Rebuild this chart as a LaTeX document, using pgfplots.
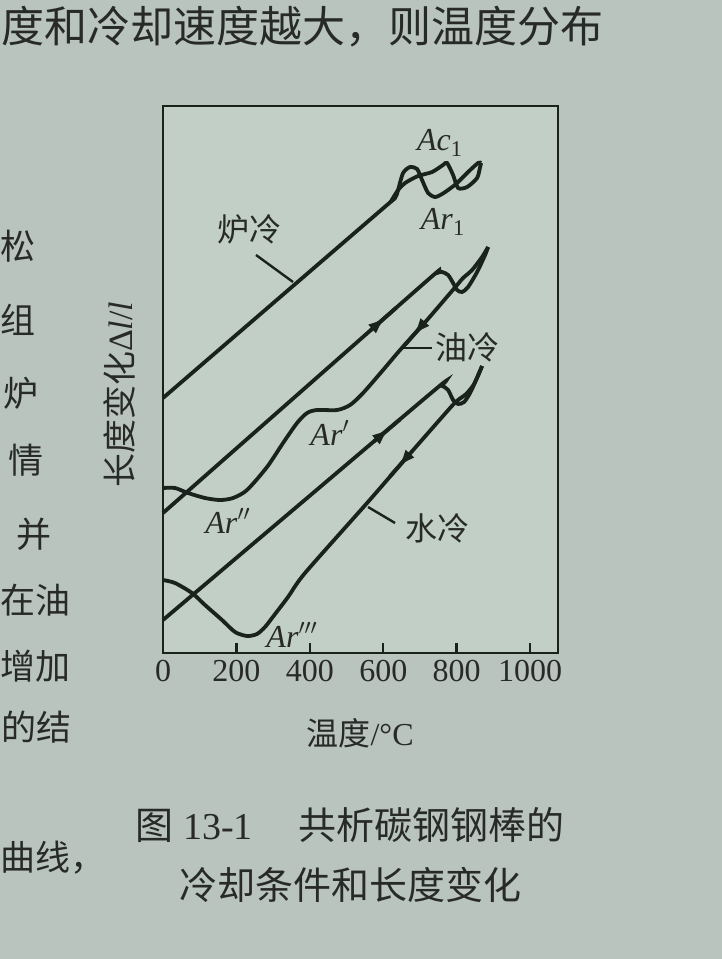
\documentclass[border=0pt]{standalone}
\usepackage{fontspec}
\setmainfont{Liberation Serif}
\newfontfamily\cjk{Noto Sans CJK SC}
\usepackage{pgfplots}
\pgfplotsset{compat=1.18}
\usetikzlibrary{decorations.markings,arrows.meta}
\definecolor{bg}{RGB}{184,196,189}
\definecolor{inner}{RGB}{193,207,199}
\definecolor{ink}{RGB}{26,34,30}
\definecolor{txt}{RGB}{40,42,40}
\pgfplotsset{
  arrowseg/.style={line width=1.9pt, draw=ink, postaction={decorate},
    decoration={markings, mark=at position 0.6 with {\arrow[ink]{Latex[length=9pt,width=6pt]}}}},
  curve/.style={line width=1.9pt, draw=ink, mark=none, smooth, tension=0.45},
}
\begin{document}
\begin{tikzpicture}
\fill[bg] (0pt,0pt) rectangle (361pt,-479.5pt);
\useasboundingbox (0pt,0pt) rectangle (361pt,-479.5pt);
% surrounding page text
\node[anchor=west, inner sep=0, font=\fontsize{21.5}{21.5}\selectfont\cjk, text=txt] at (0.5pt,-13.5pt) {度和冷却速度越大，则温度分布};
\begin{scope}[every node/.style={anchor=east, inner sep=0, font=\fontsize{17.5}{17.5}\selectfont\cjk, text=txt}]
\node at (18pt,-123pt) {松};
\node at (18pt,-160pt) {组};
\node at (19.5pt,-196.5pt) {炉};
\node at (22pt,-230pt) {情};
\node at (26pt,-267pt) {并};
\node at (35.5pt,-300pt) {在油};
\node at (35.5pt,-333pt) {增加};
\node at (36pt,-363.5pt) {的结};
\node at (53pt,-429pt) {曲线，};
\end{scope}
\begin{axis}[
  at={(81.5pt,-326.5pt)}, anchor=south west,
  scale only axis, width=197.5pt, height=273.5pt,
  xmin=0, xmax=1076, ymin=0, ymax=547,
  xtick={0,200,400,600,800,1000},
  xticklabels={0,200,400,600,800,1000},
  ytick=\empty,
  xtick pos=left, tick align=inside, major tick length=5pt,
  axis line style={line width=1.2pt, draw=ink},
  tick style={line width=1.2pt, draw=ink},
  xticklabel style={font=\fontsize{16}{16}\selectfont, text=txt},
  axis background/.style={fill=inner},
  clip=false,
  xlabel={{\cjk 温度}/°C},
  xlabel style={at={(axis description cs:0.499,-0.146)}, anchor=center, font=\fontsize{16}{16}\selectfont, text=txt},
  ylabel={{\cjk 长度变化}Δ\textit{l}/\textit{l}},
  ylabel style={at={(axis description cs:-0.109,0.472)}, anchor=center, font=\fontsize{17}{17}\selectfont, text=txt},
]
% ---------- furnace cooled ----------
\addplot[curve] coordinates {
 (0,255) (300,349.9) (600,444.8) (632.2,455) (640.3,463) (654,480) (673,486)
 (692.1,484) (705.7,473) (722.1,460) (741.1,456) (760.2,459) (776.6,463)
 (801.1,470) (831.1,481) (858.3,490) (866.5,490)};
\addplot[curve] coordinates {
 (866.5,490) (863.8,486) (855.6,475) (828.3,466) (803.8,465) (790.2,478)
 (773.8,490) (762.9,488) (733,481) (694.8,477) (659.4,470) (640.3,463) (620,451)};
% ---------- oil cooled ----------
\addplot[curve] coordinates {
 (0,140) (373.3,260.6) (727.5,375) (746.6,380) (760.2,381) (776.6,378)
 (790.2,370) (801.1,363) (814.7,361) (831.1,366) (855.6,381) (877.4,398) (885.6,406)};
\addplot[curve] coordinates {
 (885.6,406) (869.2,396) (842.0,383) (817.4,375) (801.1,368) (719.3,333)
 (645.8,303) (599.5,283) (545.0,260) (509.5,248) (474.1,243) (419.6,243)
 (392.4,240) (365.1,230) (327.0,210) (283.4,186) (228.9,163) (190.7,155)
 (155.3,153) (114.4,155) (68.1,160) (32.7,165) (0,165)};
\addplot[arrowseg] coordinates {(564.0,322.2) (634.9,345.1)};
\addplot[arrowseg] coordinates {(713.9,331.2) (659.4,308.2)};
% ---------- water cooled ----------
\addplot[curve] coordinates {
 (0,33) (373.3,149) (746.6,265) (760.2,267) (776.6,263) (790.2,253)
 (803.8,249) (820.2,251) (836.5,260) (852.9,273) (869.2,287)};
\addplot[curve] coordinates {
 (869.2,287) (847.4,269) (825.6,259) (803.8,253) (782.0,245) (645.8,188)
 (555.9,150) (386.9,80) (340.6,56) (297.0,35) (277.9,26) (256.1,19)
 (228.9,17) (196.2,21) (160.8,33) (114.4,48) (79.0,60) (32.7,70) (0,73)};
\addplot[arrowseg] coordinates {(574.9,211.6) (645.8,233.6)};
\addplot[arrowseg] coordinates {(673.0,199.5) (618.5,176.7)};
% ---------- leaders ----------
\draw[ink, line width=1.2pt] (axis cs:253.4,398) -- (axis cs:354.2,371);
\draw[ink, line width=1.2pt] (axis cs:651.2,305) -- (axis cs:733,305);
\draw[ink, line width=1.2pt] (axis cs:558.6,146) -- (axis cs:632.2,130);
% ---------- labels ----------
\begin{scope}[every node/.style={font=\fontsize{16}{16}\selectfont, text=txt}]
\node[font=\fontsize{16}{16}\selectfont\cjk] at (axis cs:234.3,424) {炉冷};
\node[font=\fontsize{16}{16}\selectfont\cjk] at (axis cs:828.3,306) {油冷};
\node[font=\fontsize{16}{16}\selectfont\cjk] at (axis cs:746.6,125) {水冷};
\node at (axis cs:754.8,510) {\textit{Ac}\textsubscript{1}};
\node at (axis cs:762.9,431) {\textit{Ar}\textsubscript{1}};
\node at (axis cs:455,220) {\textit{Ar}$'$};
\node at (axis cs:177.1,132) {\textit{Ar}$''$};
\node at (axis cs:351.5,18) {\textit{Ar}$'''$};
\end{scope}
\end{axis}
% caption
\node[font=\fontsize{19}{19}\selectfont, text=txt] at (175pt,-412.5pt) {{\cjk 图} 13-1\hspace{1.2em}{\cjk 共析碳钢钢棒的}};
\node[font=\fontsize{19}{19}\selectfont\cjk, text=txt] at (175pt,-442.5pt) {冷却条件和长度变化};
\end{tikzpicture}
\end{document}
